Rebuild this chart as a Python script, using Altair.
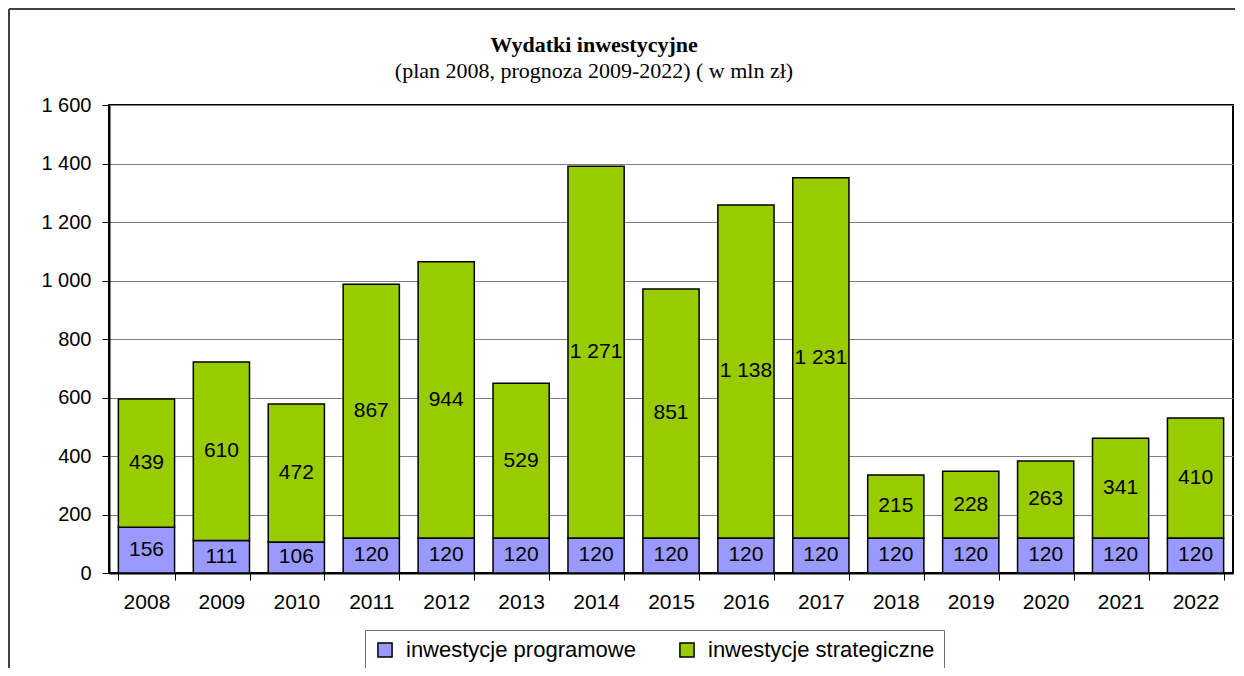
import altair as alt
import pandas as pd

years = [str(y) for y in range(2008, 2023)]
programowe = [156, 111, 106, 120, 120, 120, 120, 120, 120, 120, 120, 120, 120, 120, 120]
strategiczne = [439, 610, 472, 867, 944, 529, 1271, 851, 1138, 1231, 215, 228, 263, 341, 410]
series = ["inwestycje programowe", "inwestycje strategiczne"]
colors = ["#9999FF", "#99CC00"]
y_ticks = [0, 200, 400, 600, 800, 1000, 1200, 1400, 1600]

rows = []
for i, yr in enumerate(years):
    rows.append({"year": yr, "series": series[0], "value": programowe[i], "order": 0})
    rows.append({"year": yr, "series": series[1], "value": strategiczne[i], "order": 1})
df = pd.DataFrame(rows)

FONT = "Liberation Sans"
fmt_expr = "replace(format(datum.value, ','), ',', ' ')"

x_enc = alt.X(
    "year:N",
    sort=years,
    scale=alt.Scale(paddingInner=0.25, paddingOuter=0.125),
    axis=alt.Axis(
        title=None, labelAngle=0, tickBand="extent", grid=False,
        labelFont=FONT, labelFontSize=21, labelColor="black", labelPadding=11,
        tickColor="black", tickSize=7, tickWidth=1,
        domainColor="black", domainWidth=2,
    ),
)

bars = alt.Chart(df).mark_bar(stroke="black", strokeWidth=1.5).encode(
    x=x_enc,
    y=alt.Y(
        "value:Q",
        stack="zero",
        scale=alt.Scale(domain=[0, 1600], nice=False),
        axis=alt.Axis(
            title=None, values=y_ticks, labelExpr=fmt_expr,
            labelFont=FONT, labelFontSize=20, labelColor="black", labelPadding=11,
            tickColor="black", tickSize=7, tickWidth=1,
            domainColor="black", domainWidth=2,
            grid=True, gridColor="#808080", gridWidth=1,
        ),
    ),
    color=alt.Color(
        "series:N",
        scale=alt.Scale(domain=series, range=colors),
        legend=alt.Legend(
            title=None, orient="none", legendX=256, legendY=525,
            direction="horizontal", strokeColor="#707070", fillColor="white",
            padding=9, columnPadding=40, symbolType="square", symbolSize=200,
            symbolStrokeColor="black", symbolStrokeWidth=1.5, labelOffset=10,
            labelFont=FONT, labelFontSize=22, labelColor="black", labelLimit=400,
        ),
    ),
    order=alt.Order("order:Q"),
)

labels = (
    alt.Chart(df)
    .transform_stack(stack="value", groupby=["year"], as_=["y0", "y1"], sort=[alt.SortField("order")])
    .transform_calculate(mid="(datum.y0 + datum.y1) / 2", lbl=fmt_expr)
    .mark_text(font=FONT, fontSize=21, color="black", baseline="middle", align="center")
    .encode(x=alt.X("year:N", sort=years), y=alt.Y("mid:Q"), text="lbl:N")
)

one = pd.DataFrame({"k": [0]})
frame_left = alt.Chart(one).mark_rule(color="#404040", strokeWidth=2).encode(
    x=alt.value(-100), y=alt.value(-96), y2=alt.value(700)
)
frame_top = alt.Chart(one).mark_rule(color="#404040", strokeWidth=2).encode(
    x=alt.value(-100), x2=alt.value(1300), y=alt.value(-96)
)

chart = (
    alt.layer(bars, labels, frame_left, frame_top)
    .properties(
        width=1124,
        height=468,
        autosize="none",
        padding={"left": 101, "top": 97, "right": 2, "bottom": 95},
        title=alt.TitleParams(
            text="Wydatki inwestycyjne",
            subtitle="(plan 2008, prognoza 2009-2022) ( w mln zł)",
            font="Liberation Serif", fontSize=22, fontWeight="bold", color="black",
            subtitleFont="Liberation Serif", subtitleFontSize=22, subtitleColor="black",
            subtitlePadding=4, anchor="middle", frame="group", dx=-77, offset=-75,
        ),
    )
    .configure_view(stroke="black", strokeWidth=2)
)

chart.save("out.html", embed_options={"renderer": "svg", "actions": False})
